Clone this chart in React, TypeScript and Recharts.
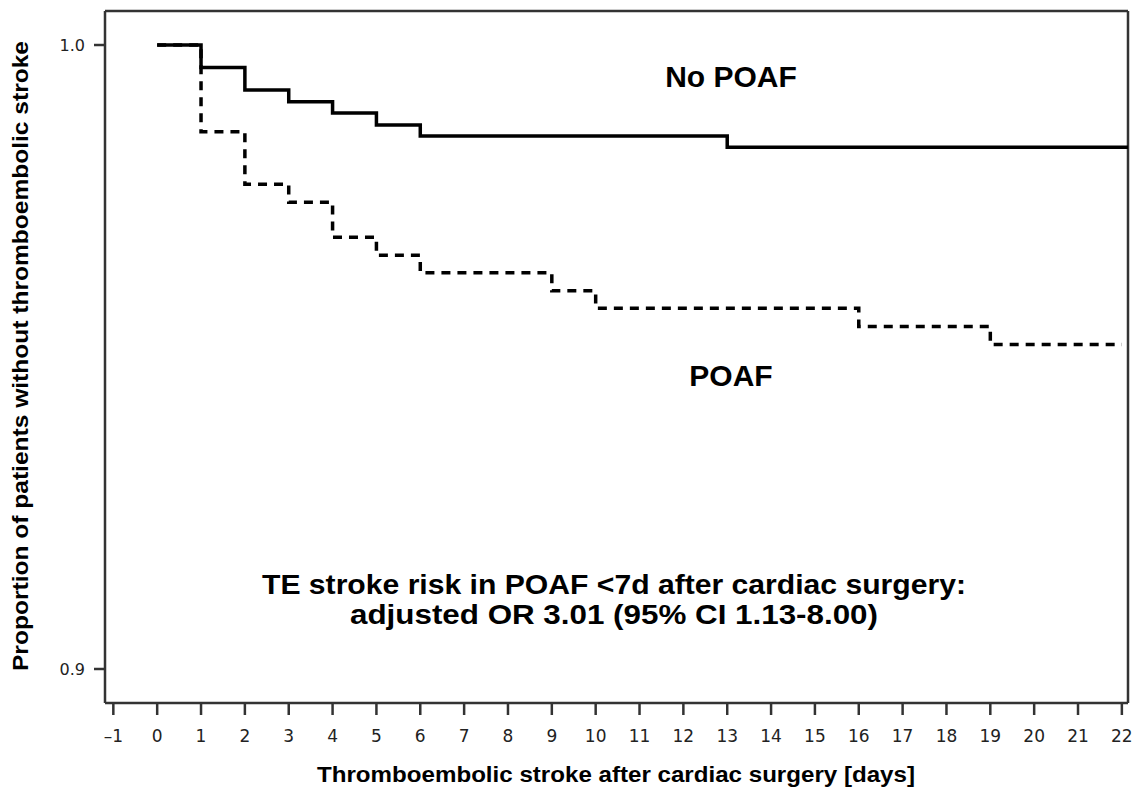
import React from 'react';
import { LineChart, Line, XAxis, YAxis, ReferenceLine } from 'recharts';

// Kaplan-Meier style step curves
const noPoafDays = [0, 1, 2, 3, 4, 5, 6, 13, 22.14];
const noPoafSurv = [1, 0.9964, 0.9928, 0.9909, 0.9891, 0.9872, 0.9854, 0.9836, 0.9836];

const poafDays = [0, 1, 2, 3, 4, 5, 6, 9, 10, 16, 19, 22];
const poafSurv = [1, 0.9861, 0.9777, 0.9748, 0.9692, 0.9663, 0.9635, 0.9606, 0.9578, 0.9549, 0.952, 0.952];

const xTicks = [-1, 0, 1, 2, 3, 4, 5, 6, 7, 8, 9, 10, 11, 12, 13, 14, 15, 16, 17, 18, 19, 20, 21, 22];
const yTicks = [0.9, 1.0];

const X_DOMAIN: [number, number] = [-1.19, 22.14];
const Y_DOMAIN: [number, number] = [0.89455, 1.00545];

const noPoafData = noPoafDays.map((t, i) => ({ t, s: noPoafSurv[i] }));
const poafData = poafDays.map((t, i) => ({ t, s: poafSurv[i] }));

const AXIS = '#333';
const TEXT_FONT = '"Liberation Sans", Arial, sans-serif';
const TICK_FONT = '"DejaVu Sans", Verdana, sans-serif';

const XTick = ({ x, y, payload }: any) => (
  <text x={x} y={y} dy={13} textAnchor="middle" fontSize={17} fontFamily={TICK_FONT} fill="#222">
    {payload.value < 0 ? `\u2013${Math.abs(payload.value)}` : payload.value}
  </text>
);

const YTick = ({ x, y, payload }: any) => (
  <text x={x} y={y} dy={6} textAnchor="end" fontSize={16} fontFamily={TICK_FONT} fill="#222">
    {Number(payload.value).toFixed(1)}
  </text>
);

const App: React.FC = () => {
  return (
    <div style={{ position: 'absolute', left: 0, top: 0, width: 1136, height: 792, background: '#fff' }}>
      <LineChart width={1136} height={792} margin={{ top: 11, right: 8, left: 0, bottom: 0 }}>
        <XAxis
          type="number"
          dataKey="t"
          domain={X_DOMAIN}
          ticks={xTicks}
          allowDataOverflow
          height={89}
          stroke={AXIS}
          strokeWidth={2.5}
          tickSize={12}
          tickMargin={14}
          tick={<XTick />}
        />
        <YAxis
          type="number"
          dataKey="s"
          domain={Y_DOMAIN}
          ticks={yTicks}
          allowDataOverflow
          width={105}
          stroke={AXIS}
          strokeWidth={2.5}
          tickSize={11}
          tickMargin={9}
          tick={<YTick />}
        />
        <ReferenceLine y={Y_DOMAIN[1]} stroke={AXIS} strokeWidth={2.5} />
        <ReferenceLine x={X_DOMAIN[1]} stroke={AXIS} strokeWidth={2.5} />
        <Line
          data={poafData}
          dataKey="s"
          type="stepAfter"
          stroke="#000"
          strokeWidth={3.5}
          strokeDasharray="9 7"
          dot={false}
          isAnimationActive={false}
        />
        <Line
          data={noPoafData}
          dataKey="s"
          type="stepAfter"
          stroke="#000"
          strokeWidth={3.5}
          dot={false}
          isAnimationActive={false}
        />
      </LineChart>
      <svg
        width={1136}
        height={792}
        style={{ position: 'absolute', left: 0, top: 0, pointerEvents: 'none' }}
        fontFamily={TEXT_FONT}
        fontWeight="bold"
        fill="#000"
      >
        <text x={731} y={87} fontSize={30} textAnchor="middle">No POAF</text>
        <text x={731} y={386} fontSize={30} textAnchor="middle">POAF</text>
        <text x={614} y={594} fontSize={28} textAnchor="middle" textLength={704} lengthAdjust="spacingAndGlyphs">
          TE stroke risk in POAF &lt;7d after cardiac surgery:
        </text>
        <text x={614} y={624} fontSize={28} textAnchor="middle" textLength={528} lengthAdjust="spacingAndGlyphs">
          adjusted OR 3.01 (95% CI 1.13-8.00)
        </text>
        <text x={616} y={782} fontSize={22} textAnchor="middle" textLength={598} lengthAdjust="spacingAndGlyphs">
          Thromboembolic stroke after cardiac surgery [days]
        </text>
        <text
          x={28}
          y={356}
          fontSize={22}
          textAnchor="middle"
          transform="rotate(-90 28 356)"
          textLength={630}
          lengthAdjust="spacingAndGlyphs"
        >
          Proportion of patients without thromboembolic stroke
        </text>
      </svg>
    </div>
  );
};

export default App;
